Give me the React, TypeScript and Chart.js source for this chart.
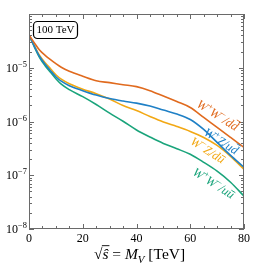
import { useEffect, useRef } from 'react';
import { Chart, registerables } from 'chart.js';
Chart.register(...registerables);

const masses = [0, 2, 4, 6, 8, 10, 12, 15, 20, 25, 30, 35, 40, 45, 50, 55, 60, 65, 70, 75, 80];
const wpwmDD = [4.08e-5, 2.9e-5, 2.11e-5, 1.7e-5, 1.41e-5, 1.19e-5, 1.02e-5, 8.61e-6, 6.96e-6, 5.74e-6, 5.28e-6, 4.84e-6, 4.45e-6, 3.75e-6, 2.97e-6, 2.35e-6, 1.82e-6, 1.19e-6, 7.74e-7, 5.05e-7, 3.3e-7];
const wpzUD = [4.08e-5, 2.5e-5, 1.6e-5, 1.16e-5, 8.8e-6, 6.81e-6, 5.62e-6, 4.64e-6, 3.75e-6, 3.1e-6, 2.67e-6, 2.4e-6, 2.2e-6, 1.94e-6, 1.63e-6, 1.38e-6, 1.09e-6, 7.11e-7, 4.08e-7, 2.35e-7, 1.41e-7];
const wmzDU = [4.08e-5, 2.56e-5, 1.67e-5, 1.24e-5, 9.58e-6, 7.42e-6, 6.12e-6, 5.05e-6, 4.0e-6, 3.3e-6, 2.61e-6, 1.98e-6, 1.6e-6, 1.24e-6, 9.79e-7, 8.08e-7, 6.53e-7, 5.05e-7, 3.59e-7, 2.25e-7, 1.29e-7];
const wpwmUU = [4.08e-5, 2.45e-5, 1.53e-5, 1.09e-5, 8.25e-6, 6.26e-6, 4.95e-6, 3.91e-6, 2.9e-6, 2.07e-6, 1.43e-6, 1.01e-6, 6.96e-7, 5.16e-7, 3.91e-7, 3.12e-7, 2.45e-7, 1.74e-7, 1.19e-7, 7.42e-8, 4.08e-8];

const xTicks = [0, 20, 40, 60, 80];
const yDecades = [-8, -7, -6, -5];
const energyLabel = '100 TeV';

const ORANGE = '#E06A1E';
const BLUE = '#1F80C6';
const YELLOW = '#F2A814';
const GREEN = '#1AA47B';

type Part = { t: string; it?: boolean; sup?: boolean; sub?: boolean; bar?: number };

const series = [
  { name: 'W+W-/dd', data: wpwmDD, color: ORANGE },
  { name: 'W+Z/ud', data: wpzUD, color: BLUE },
  { name: 'W-Z/du', data: wmzDU, color: YELLOW },
  { name: 'W+W-/uu', data: wpwmUU, color: GREEN },
];

const curveLabels: { parts: Part[]; x: number; y: number; color: string }[] = [
  { parts: [{ t: 'W', it: true }, { t: '+', sup: true }, { t: 'W', it: true }, { t: '−', sup: true }, { t: '/', it: true }, { t: 'd', it: true }, { t: 'd', it: true, bar: 0.82 }], x: 70.3, y: 1.32e-6, color: ORANGE },
  { parts: [{ t: 'W', it: true }, { t: '+', sup: true }, { t: 'Z', it: true }, { t: '/', it: true }, { t: 'u', it: true }, { t: 'd', it: true, bar: 0.82 }], x: 71.6, y: 4.34e-7, color: BLUE },
  { parts: [{ t: 'W', it: true }, { t: '−', sup: true }, { t: 'Z', it: true }, { t: '/', it: true }, { t: 'd', it: true }, { t: 'u', it: true, bar: 0.6 }], x: 66.6, y: 2.95e-7, color: YELLOW },
  { parts: [{ t: 'W', it: true }, { t: '+', sup: true }, { t: 'W', it: true }, { t: '−', sup: true }, { t: '/', it: true }, { t: 'u', it: true }, { t: 'u', it: true, bar: 0.6 }], x: 68.8, y: 7.18e-8, color: GREEN },
];

const FAM = "'Liberation Serif', 'DejaVu Serif', serif";

function partFont(p: Part, size: number) {
  const s = p.sup || p.sub ? size * 0.7 : size;
  return `${p.it ? 'italic ' : ''}${s}px ${FAM}`;
}
function measureParts(ctx: CanvasRenderingContext2D, parts: Part[], size: number) {
  let w = 0;
  for (const p of parts) {
    ctx.font = partFont(p, size);
    w += ctx.measureText(p.t).width;
  }
  return w;
}
function drawParts(ctx: CanvasRenderingContext2D, parts: Part[], x: number, y: number, size: number, color: string) {
  let cx = x;
  ctx.fillStyle = color;
  ctx.strokeStyle = color;
  ctx.textAlign = 'left';
  ctx.textBaseline = 'alphabetic';
  for (const p of parts) {
    ctx.font = partFont(p, size);
    const w = ctx.measureText(p.t).width;
    const dy = p.sup ? -size * 0.4 : p.sub ? size * 0.25 : 0;
    ctx.fillText(p.t, cx, y + dy);
    if (p.bar) {
      ctx.lineWidth = Math.max(0.8, size * 0.07);
      ctx.beginPath();
      ctx.moveTo(cx + w * 0.25, y - size * p.bar);
      ctx.lineTo(cx + w * 1.0, y - size * p.bar);
      ctx.stroke();
    }
    cx += w;
  }
  return cx - x;
}

const decorPlugin = {
  id: 'decor',
  afterDraw(chart: any) {
    const { ctx, chartArea: a, scales } = chart;
    const xs = scales.x;
    const ys = scales.y;
    ctx.save();
    ctx.strokeStyle = '#6a6a6a';
    ctx.lineWidth = 1;
    ctx.strokeRect(a.left + 0.5, a.top + 0.5, a.right - a.left - 1, a.bottom - a.top - 1);
    const line = (x1: number, y1: number, x2: number, y2: number) => {
      ctx.beginPath();
      ctx.moveTo(x1, y1);
      ctx.lineTo(x2, y2);
      ctx.stroke();
    };
    for (let v = 0; v <= 80; v += 5) {
      const px = Math.round(xs.getPixelForValue(v)) + 0.5;
      const len = v % 20 === 0 ? 5 : 3;
      line(px, a.bottom, px, a.bottom - len);
      line(px, a.top, px, a.top + len);
    }
    for (const k of [-8, -7, -6, -5]) {
      for (let m = 1; m <= 9; m++) {
        const py = Math.round(ys.getPixelForValue(m * Math.pow(10, k))) + 0.5;
        const len = m === 1 ? 5 : 3;
        line(a.left, py, a.left + len, py);
        line(a.right, py, a.right - len, py);
      }
    }
    for (const k of yDecades) {
      const py = ys.getPixelForValue(Math.pow(10, k));
      const parts: Part[] = [{ t: '10' }, { t: '−' + String(-k), sup: true }];
      const w = measureParts(ctx, parts, 12);
      drawParts(ctx, parts, a.left - 2 - w, py + 4, 12, '#000');
    }
    {
      const size = 15.5;
      const parts: Part[] = [{ t: '√' }, { t: 'ŝ', it: true }, { t: ' = ' }, { t: 'M', it: true }, { t: 'V', it: true, sub: true }, { t: ' [TeV]' }];
      const w = measureParts(ctx, parts, size);
      const x0 = (a.left + a.right) / 2 + 3 - w / 2;
      const base = 259;
      drawParts(ctx, parts, x0, base, size, '#000');
      ctx.font = partFont(parts[0], size);
      const wr = ctx.measureText('√').width;
      ctx.font = partFont(parts[1], size);
      const ws = ctx.measureText('ŝ').width;
      ctx.lineWidth = 0.9;
      ctx.strokeStyle = '#000';
      line(x0 + wr - 0.5, base - size * 0.86, x0 + wr + ws + 1, base - size * 0.86);
    }
    {
      const bx = 33, by = 21, bw = 44, bh = 17, r = 4;
      ctx.lineWidth = 1.2;
      ctx.strokeStyle = '#000';
      ctx.fillStyle = '#fff';
      ctx.beginPath();
      ctx.roundRect(bx + 0.5, by + 0.5, bw, bh, r);
      ctx.fill();
      ctx.stroke();
      ctx.fillStyle = '#000';
      ctx.font = `11px ${FAM}`;
      ctx.textAlign = 'center';
      ctx.textBaseline = 'middle';
      ctx.fillText(energyLabel, bx + bw / 2 + 0.5, by + bh / 2 + 1);
    }
    for (const lb of curveLabels) {
      const cx = xs.getPixelForValue(lb.x);
      const cy = ys.getPixelForValue(lb.y);
      const size = 12.5;
      const w = measureParts(ctx, lb.parts, size);
      ctx.save();
      ctx.translate(cx, cy);
      ctx.rotate((32 * Math.PI) / 180);
      drawParts(ctx, lb.parts, -w / 2, size * 0.35, size, lb.color);
      ctx.restore();
    }
    ctx.restore();
  },
};

export default function App() {
  const ref = useRef<HTMLCanvasElement>(null);
  useEffect(() => {
    document.body.style.margin = '0';
    const chart = new Chart(ref.current!, {
      type: 'line',
      data: {
        datasets: series.map((s) => ({
          label: s.name,
          data: masses.map((m, i) => ({ x: m, y: s.data[i] })),
          borderColor: s.color,
          backgroundColor: s.color,
          borderWidth: 1.6,
          pointRadius: 0,
          cubicInterpolationMode: 'monotone' as const,
          fill: false,
        })),
      },
      options: {
        responsive: false,
        animation: false,
        layout: { padding: { top: 14, right: 15, left: 0, bottom: 0 } },
        plugins: { legend: { display: false }, tooltip: { enabled: false } },
        scales: {
          x: {
            type: 'linear',
            min: 0,
            max: 80,
            grid: { display: false, drawTicks: false },
            border: { display: false },
            afterBuildTicks: (s: any) => {
              s.ticks = xTicks.map((v) => ({ value: v }));
            },
            ticks: {
              padding: 3,
              maxRotation: 0,
              color: '#000',
              font: { family: FAM, size: 12 },
            },
            afterFit: (s: any) => {
              s.height = 37;
            },
          },
          y: {
            type: 'logarithmic',
            min: 1e-8,
            max: 1e-4,
            grid: { display: false, drawTicks: false },
            border: { display: false },
            ticks: { display: false },
            afterFit: (s: any) => {
              s.width = 29;
            },
          },
        },
      },
      plugins: [decorPlugin],
    });
    return () => chart.destroy();
  }, []);
  return <canvas ref={ref} width={259} height={266} style={{ display: 'block' }} />;
}
